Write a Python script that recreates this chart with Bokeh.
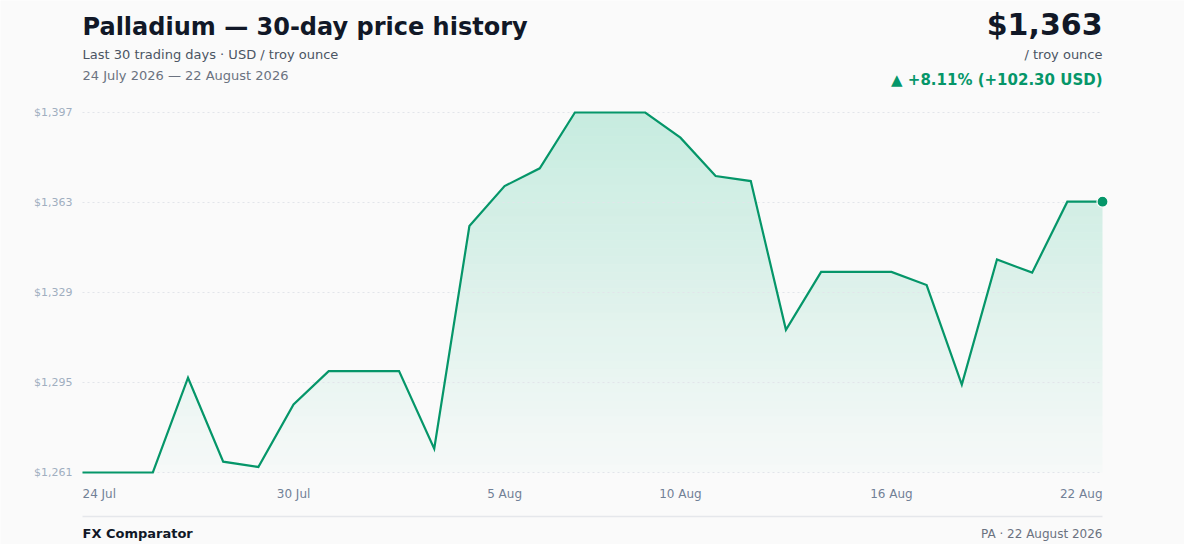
import numpy as np
from bokeh.plotting import figure
from bokeh.models import Range1d
from bokeh.core.properties import value
from bokeh.embed import file_html
from bokeh.resources import INLINE

# ---------------- data ----------------
day_index = list(range(30))
prices = [1261.1, 1261.1, 1261.1, 1296.9, 1265.2, 1263.2, 1286.8, 1299.4, 1299.4, 1299.4,
          1270.1, 1354.2, 1369.3, 1376.0, 1397.1, 1397.1, 1397.1, 1387.6, 1373.1, 1371.2,
          1315.0, 1336.9, 1336.9, 1336.9, 1331.9, 1294.3, 1341.6, 1336.6, 1363.4, 1363.4]
x_tick_pos = [0, 6, 12, 17, 23, 29]
x_tick_labels = ["24 Jul", "30 Jul", "5 Aug", "10 Aug", "16 Aug", "22 Aug"]
x_tick_align = ["left", "center", "center", "center", "center", "right"]

title = "Palladium \u2014 30-day price history"
subtitle = "Last 30 trading days \u00b7 USD / troy ounce"
date_span = "24 July 2026 \u2014 22 August 2026"
unit = "/ troy ounce"
footer_left = "FX Comparator"
footer_right = "PA \u00b7 22 August 2026"

# ---------------- layout ----------------
W, H = 1184, 544
PL, PR, PT, PB = 82, 1102, 112, 472   # plot area in figure pixels

FONT = value("DejaVu Sans")
GREEN = "#059669"
FILL = "#10b981"
BG = "#fafafa"

ymin, ymax = min(prices), max(prices)
n = len(prices)
kx = (PR - PL) / (n - 1)
ky = (PB - PT) / (ymax - ymin)
x_start = -PL / kx
x_end = (n - 1) + (W - PR) / kx
y_start = ymin - (H - PB) / ky
y_end = ymax + PT / ky

p = figure(width=W, height=H, output_backend="svg", toolbar_location=None,
           x_range=Range1d(x_start, x_end), y_range=Range1d(y_start, y_end),
           x_axis_type=None, y_axis_type=None, min_border=0,
           background_fill_color=BG, border_fill_color=BG, outline_line_color=None)
p.grid.visible = False

# ---- area fill with a vertical gradient: horizontal strips (each 8 px tall) ----
N = 45
levels = [ymin + (ymax - ymin) * i / N for i in range(N + 1)]
# outline of the area with the exact crossing points of every level inserted
gx, gy = [day_index[0]], [prices[0]]
for i in range(n - 1):
    x0, y0, x1, y1 = day_index[i], prices[i], day_index[i + 1], prices[i + 1]
    if y1 != y0:
        cuts = [L for L in levels if min(y0, y1) < L < max(y0, y1)]
        cuts.sort(reverse=(y1 < y0))
        for L in cuts:
            gx.append(x0 + (L - y0) / (y1 - y0) * (x1 - x0))
            gy.append(L)
    gx.append(x1)
    gy.append(y1)
gy = np.array(gy)
A_TOP, A_BOT = 0.22, 0.015
for k in range(N):
    f = (k + 0.5) / N                      # 0 at bottom, 1 at top
    a = A_BOT + (A_TOP - A_BOT) * f
    p.varea(x=gx, y1=np.minimum(levels[k], gy), y2=np.minimum(levels[k + 1], gy),
            fill_color=FILL, fill_alpha=a)

# gridlines + y tick labels
y_ticks = [ymin + (ymax - ymin) * i / 4 for i in range(5)]
p.segment(x0=[0] * 5, x1=[n - 1] * 5, y0=y_ticks, y1=y_ticks,
          line_color="#e2e5ea", line_width=1, line_dash="2 3")
p.text(x=[0] * 5, y=y_ticks, text=[f"${v:,.0f}" for v in y_ticks], x_offset=-10,
       text_align="right", text_baseline="middle", text_font=FONT,
       text_font_size="11px", text_color="#a0aec0")

# x tick labels
p.text(x=x_tick_pos, y=[ymin] * len(x_tick_pos), text=x_tick_labels, y_offset=21,
       text_align=x_tick_align, text_baseline="middle", text_font=FONT,
       text_font_size="12px", text_color="#718096")

# price line and last point
p.line(x=day_index, y=prices, line_color=GREEN, line_width=2.2, line_join="miter")
p.scatter(x=[day_index[-1]], y=[prices[-1]], size=11, fill_color=GREEN,
          line_color="#ffffff", line_width=1.2)

# header
first, last = prices[0], prices[-1]
chg = last - first
pct = chg / first * 100
arrow = "\u25b2" if chg >= 0 else "\u25bc"
sign = "+" if chg >= 0 else ""
change_text = f"{arrow} {sign}{pct:.2f}% ({sign}{chg:.2f} USD)"

def header(text, at_right, y_px, size, color, bold=False, base_y=None, base_px=PT):
    yy = ymax if base_y is None else base_y
    p.text(x=[n - 1 if at_right else 0], y=[yy], text=[text], y_offset=y_px - base_px,
           text_align="right" if at_right else "left", text_baseline="middle",
           text_font=FONT, text_font_size=size, text_color=color,
           text_font_style="bold" if bold else "normal")

header(title, False, 26, "24px", "#111827", bold=True)
header(subtitle, False, 54, "13px", "#4b5563")
header(date_span, False, 75, "13px", "#6b7280")
header(f"${last:,.0f}", True, 24, "30px", "#111827", bold=True)
header(unit, True, 54, "13px", "#4b5563")
header(change_text, True, 79, "15px", GREEN, bold=True)

# footer
rule_y = ymin - (516 - PB) / ky
p.segment(x0=[0], x1=[n - 1], y0=[rule_y], y1=[rule_y], line_color="#e5e7eb", line_width=1.5)
header(footer_left, False, 533, "13px", "#111827", bold=True, base_y=ymin, base_px=PB)
header(footer_right, True, 533, "12px", "#6b7280", base_y=ymin, base_px=PB)

html = file_html(p, INLINE)
html = html.replace("<body>", '<body style="margin:8px;background:#fafafa;">', 1)
open("out.html", "w").write(html)
